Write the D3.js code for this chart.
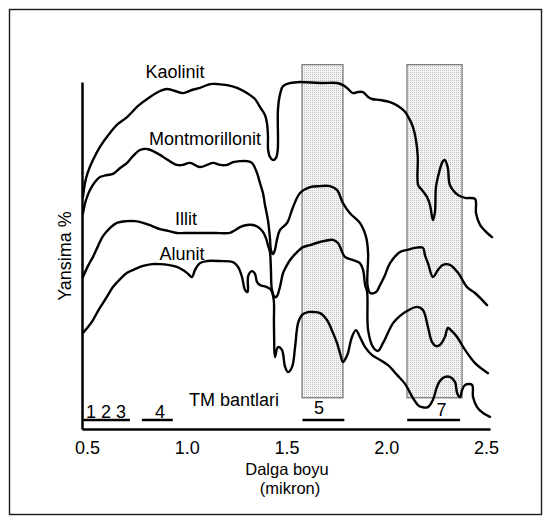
<!DOCTYPE html>
<html>
<head>
<meta charset="utf-8">
<script src="https://cdn.jsdelivr.net/npm/d3@7"></script>
<style>
  body { margin: 0; background: #fff; }
  svg { display: block; }
  text { font-family: "Liberation Sans", Arial, sans-serif; fill: #000; }
</style>
</head>
<body>
<div id="chart"></div>
<script>
// spectra: [wavelength (micron), reflectance %]
var kaolinit = [
  [0.480,66.9],[0.490,70.9],[0.505,74.1],[0.530,77.5],[0.565,81.3],[0.615,85.3],[0.655,87.9],
  [0.701,89.9],[0.756,93.1],[0.816,95.7],[0.866,97.4],[0.901,98.0],[0.941,97.4],[0.981,96.8],
  [1.026,97.7],[1.066,98.3],[1.117,99.4],[1.157,99.4],[1.202,99.1],[1.252,98.3],[1.302,96.8],
  [1.342,95.1],[1.367,92.8],[1.392,90.5],[1.402,88.2],[1.407,84.7],[1.408,80.4],[1.417,78.4],
  [1.432,77.5],[1.447,78.1],[1.456,80.4],[1.457,91.9],[1.467,96.3],[1.483,98.8],[1.518,99.7],
  [1.568,100.0],[1.668,99.7],[1.753,99.7],[1.783,99.1],[1.803,98.3],[1.833,96.8],[1.858,97.1],
  [1.883,97.1],[1.909,95.7],[1.929,95.1],[1.969,94.8],[2.019,94.2],[2.059,93.1],[2.094,91.4],
  [2.119,89.0],[2.134,87.0],[2.149,83.3],[2.158,78.4],[2.160,70.3],[2.179,68.9],[2.204,66.9],
  [2.219,64.6],[2.234,60.2],[2.244,62.5],[2.249,69.7],[2.259,72.6],[2.284,77.2],[2.294,77.5],
  [2.309,75.2],[2.319,70.3],[2.360,67.4],[2.395,66.6],[2.445,66.3],[2.450,62.2],[2.470,58.8],
  [2.500,56.8],[2.530,55.3]
];
var montmorillonit = [
  [0.480,62.2],[0.495,66.0],[0.515,68.9],[0.540,71.2],[0.565,72.6],[0.600,73.2],[0.630,73.5],
  [0.666,75.2],[0.701,76.7],[0.731,78.7],[0.766,80.4],[0.801,80.7],[0.831,80.1],[0.866,79.0],
  [0.906,77.5],[0.951,76.1],[0.981,76.1],[1.016,76.7],[1.066,75.5],[1.102,76.1],[1.132,76.7],
  [1.167,76.1],[1.202,76.1],[1.232,76.9],[1.267,77.2],[1.302,77.2],[1.327,76.7],[1.352,73.8],
  [1.367,70.9],[1.382,68.0],[1.392,64.6],[1.407,60.2],[1.417,55.0],[1.422,51.6],[1.432,50.4],
  [1.442,51.6],[1.452,54.5],[1.467,57.3],[1.503,59.4],[1.533,64.0],[1.568,68.0],[1.618,69.7],
  [1.668,70.0],[1.718,70.0],[1.753,68.9],[1.783,65.1],[1.818,62.2],[1.868,59.4],[1.899,55.3],
  [1.909,50.7],[1.906,41.5],[1.919,39.2],[1.949,39.5],[1.969,41.5],[1.994,44.4],[2.019,47.8],
  [2.069,51.0],[2.104,51.6],[2.144,52.2],[2.184,52.2],[2.194,50.1],[2.209,47.8],[2.234,43.8],
  [2.259,45.8],[2.284,47.3],[2.319,47.3],[2.360,45.0],[2.405,40.9],[2.445,39.2],[2.505,35.7]
];
var illit = [
  [0.480,43.8],[0.505,47.0],[0.530,49.6],[0.555,52.7],[0.580,55.6],[0.615,57.9],[0.650,59.4],
  [0.701,59.9],[0.741,59.9],[0.781,59.4],[0.826,58.5],[0.866,57.6],[0.906,57.1],[0.951,56.5],
  [1.016,56.5],[1.082,56.5],[1.142,56.5],[1.217,56.5],[1.242,57.3],[1.267,58.2],[1.302,58.8],
  [1.332,58.8],[1.357,58.2],[1.382,56.8],[1.397,55.0],[1.407,53.0],[1.417,51.0],[1.422,45.8],
  [1.427,40.1],[1.442,38.0],[1.452,38.3],[1.467,40.9],[1.483,45.0],[1.503,47.3],[1.518,48.7],
  [1.548,50.7],[1.583,52.4],[1.618,53.0],[1.668,53.9],[1.733,54.5],[1.758,53.6],[1.793,49.6],
  [1.833,48.7],[1.868,47.8],[1.884,45.8],[1.894,41.5],[1.904,39.5],[1.909,28.5],[1.934,23.6],
  [1.959,22.5],[1.984,24.8],[2.034,30.5],[2.069,32.6],[2.104,34.0],[2.154,35.2],[2.184,34.3],
  [2.209,29.4],[2.229,25.1],[2.249,23.9],[2.269,24.2],[2.294,26.5],[2.309,29.1],[2.329,28.2],
  [2.355,26.5],[2.395,22.8],[2.445,19.0],[2.510,16.1]
];
var alunit = [
  [0.480,27.7],[0.505,29.4],[0.530,31.4],[0.555,34.0],[0.580,36.3],[0.605,38.6],[0.630,40.9],
  [0.666,43.2],[0.701,45.0],[0.741,46.1],[0.781,47.0],[0.826,47.5],[0.866,47.5],[0.906,47.3],
  [0.951,46.7],[0.981,45.8],[1.001,45.0],[1.026,43.8],[1.041,45.8],[1.066,47.8],[1.102,48.4],
  [1.167,48.4],[1.232,48.1],[1.257,46.7],[1.277,43.8],[1.292,40.1],[1.305,39.5],[1.308,44.1],
  [1.327,45.5],[1.342,44.7],[1.352,42.4],[1.367,41.5],[1.402,40.9],[1.422,40.1],[1.436,37.2],
  [1.437,31.4],[1.438,26.5],[1.442,20.7],[1.457,23.6],[1.477,22.8],[1.493,17.9],[1.508,16.4],
  [1.528,17.9],[1.543,23.6],[1.558,30.5],[1.578,32.9],[1.608,33.7],[1.633,33.7],[1.668,33.4],
  [1.703,31.4],[1.733,27.7],[1.753,24.8],[1.768,21.9],[1.783,19.3],[1.798,20.5],[1.808,21.9],
  [1.828,26.5],[1.848,28.5],[1.868,26.5],[1.894,23.6],[1.929,21.3],[1.969,19.9],[2.009,18.4],
  [2.054,15.6],[2.094,13.0],[2.134,8.9],[2.159,6.9],[2.179,6.3],[2.209,6.3],[2.234,8.4],
  [2.254,12.1],[2.269,13.8],[2.294,15.0],[2.319,15.0],[2.345,13.5],[2.355,10.4],[2.370,9.2],
  [2.380,11.2],[2.395,12.7],[2.430,12.7],[2.435,9.2],[2.455,6.3],[2.485,4.6],[2.520,3.5]
];

var minerals = ['Kaolinit', 'Montmorillonit', 'Illit', 'Alunit'];
var spectra = [kaolinit, montmorillonit, illit, alunit];
// label anchor: [wavelength, reflectance]
var labelAt = [[0.941, 101.2], [1.092, 81.8], [0.996, 58.8], [0.976, 48.7]];

var xTicks = [0.5, 1.0, 1.5, 2.0, 2.5];
var bandNames = ['5', '7'];
var bandFrom = [1.578, 2.104];
var bandTo = [1.783, 2.380];
var tmLabels = ['1 2 3', '4', '5', '7'];
var tmFrom = [0.475, 0.775, 1.580, 2.105];
var tmTo = [0.715, 0.930, 1.790, 2.370];
var tmLabelAt = [0.595, 0.866, 1.663, 2.277];

var W = 552, H = 527;
var margin = { top: 82, left: 82, right: 62, bottom: 98 };
var fontSize = '18px';

var x = d3.scaleLinear()
  .domain([0.475, 2.52])
  .range([margin.left, W - margin.right]);
var y = d3.scaleLinear()
  .domain([0, 100])
  .range([H - margin.bottom, margin.top]);

var svg = d3.select('#chart').append('svg')
  .attr('width', W)
  .attr('height', H);

// stipple fill for the TM band 5 / 7 windows
var pat = svg.append('defs').append('pattern')
  .attr('id', 'stipple')
  .attr('width', 2)
  .attr('height', 2)
  .attr('patternUnits', 'userSpaceOnUse');
pat.append('rect').attr('width', 2).attr('height', 2).attr('fill', '#f4f4f4');
pat.append('rect').attr('width', 1).attr('height', 1).attr('fill', '#c2c2c2');

svg.append('rect')
  .attr('x', 9.5).attr('y', 9.5)
  .attr('width', 532).attr('height', 505)
  .attr('fill', 'none')
  .attr('stroke', '#1a1a1a')
  .attr('stroke-width', 1.4);

svg.selectAll('rect.band')
    .data(bandNames)
  .enter().append('rect')
    .attr('class', 'band')
    .attr('x', function(d, i) { return x(bandFrom[i]); })
    .attr('width', function(d, i) { return x(bandTo[i]) - x(bandFrom[i]); })
    .attr('y', y(105))
    .attr('height', y(9) - y(105))
    .attr('fill', 'url(#stipple)')
    .attr('stroke', '#7a7a7a')
    .attr('stroke-width', 1.3);

var line = d3.line()
  .x(function(d) { return x(d[0]); })
  .y(function(d) { return y(d[1]); })
  .curve(d3.curveCatmullRom.alpha(0.5));

svg.selectAll('path.spectrum')
    .data(spectra)
  .enter().append('path')
    .attr('class', 'spectrum')
    .attr('d', line)
    .attr('fill', 'none')
    .attr('stroke', '#000')
    .attr('stroke-width', 2.4)
    .attr('stroke-linejoin', 'round')
    .attr('stroke-linecap', 'round');

svg.selectAll('text.mineral')
    .data(minerals)
  .enter().append('text')
    .attr('class', 'mineral')
    .attr('x', function(d, i) { return x(labelAt[i][0]); })
    .attr('y', function(d, i) { return y(labelAt[i][1]); })
    .attr('text-anchor', 'middle')
    .attr('font-size', fontSize)
    .text(function(d) { return d; });

// axes
var xAxis = svg.append('g')
  .attr('transform', 'translate(0,' + y(0) + ')')
  .call(d3.axisBottom(x).tickValues(xTicks).tickSize(0).tickPadding(12).tickFormat(d3.format('.1f')));
var yAxis = svg.append('g')
  .attr('transform', 'translate(' + x.range()[0] + ',0)')
  .call(d3.axisLeft(y).tickValues([]).tickSizeOuter(0));

svg.selectAll('.domain')
  .attr('stroke', '#000')
  .attr('stroke-width', 2.5);
xAxis.selectAll('text')
  .attr('font-family', '"Liberation Sans", Arial, sans-serif')
  .attr('font-size', fontSize);

// TM band bars along the bottom
svg.selectAll('line.tm')
    .data(tmLabels)
  .enter().append('line')
    .attr('class', 'tm')
    .attr('x1', function(d, i) { return x(tmFrom[i]); })
    .attr('x2', function(d, i) { return x(tmTo[i]); })
    .attr('y1', y(2.6))
    .attr('y2', y(2.6))
    .attr('stroke', '#000')
    .attr('stroke-width', 2.5);

svg.selectAll('text.tm')
    .data(tmLabels)
  .enter().append('text')
    .attr('class', 'tm')
    .attr('x', function(d, i) { return x(tmLabelAt[i]); })
    .attr('y', function(d, i) { return y(i < 2 ? 3.2 : (i == 2 ? 4.3 : 3.7)); })
    .attr('text-anchor', 'middle')
    .attr('font-size', fontSize)
    .attr('xml:space', 'preserve')
    .text(function(d) { return d; });

svg.append('text')
  .attr('x', x(1.237))
  .attr('y', y(6.6))
  .attr('text-anchor', 'middle')
  .attr('font-size', fontSize)
  .text('TM bantlari');

svg.append('text')
  .attr('x', 287)
  .attr('y', 475)
  .attr('text-anchor', 'middle')
  .attr('font-size', '16.5px')
  .text('Dalga boyu');
svg.append('text')
  .attr('x', 290)
  .attr('y', 494)
  .attr('text-anchor', 'middle')
  .attr('font-size', '16.5px')
  .text('(mikron)');

svg.append('text')
  .attr('transform', 'translate(71,256) rotate(-90)')
  .attr('text-anchor', 'middle')
  .attr('font-size', fontSize)
  .text('Yansima %');
</script>
</body>
</html>
